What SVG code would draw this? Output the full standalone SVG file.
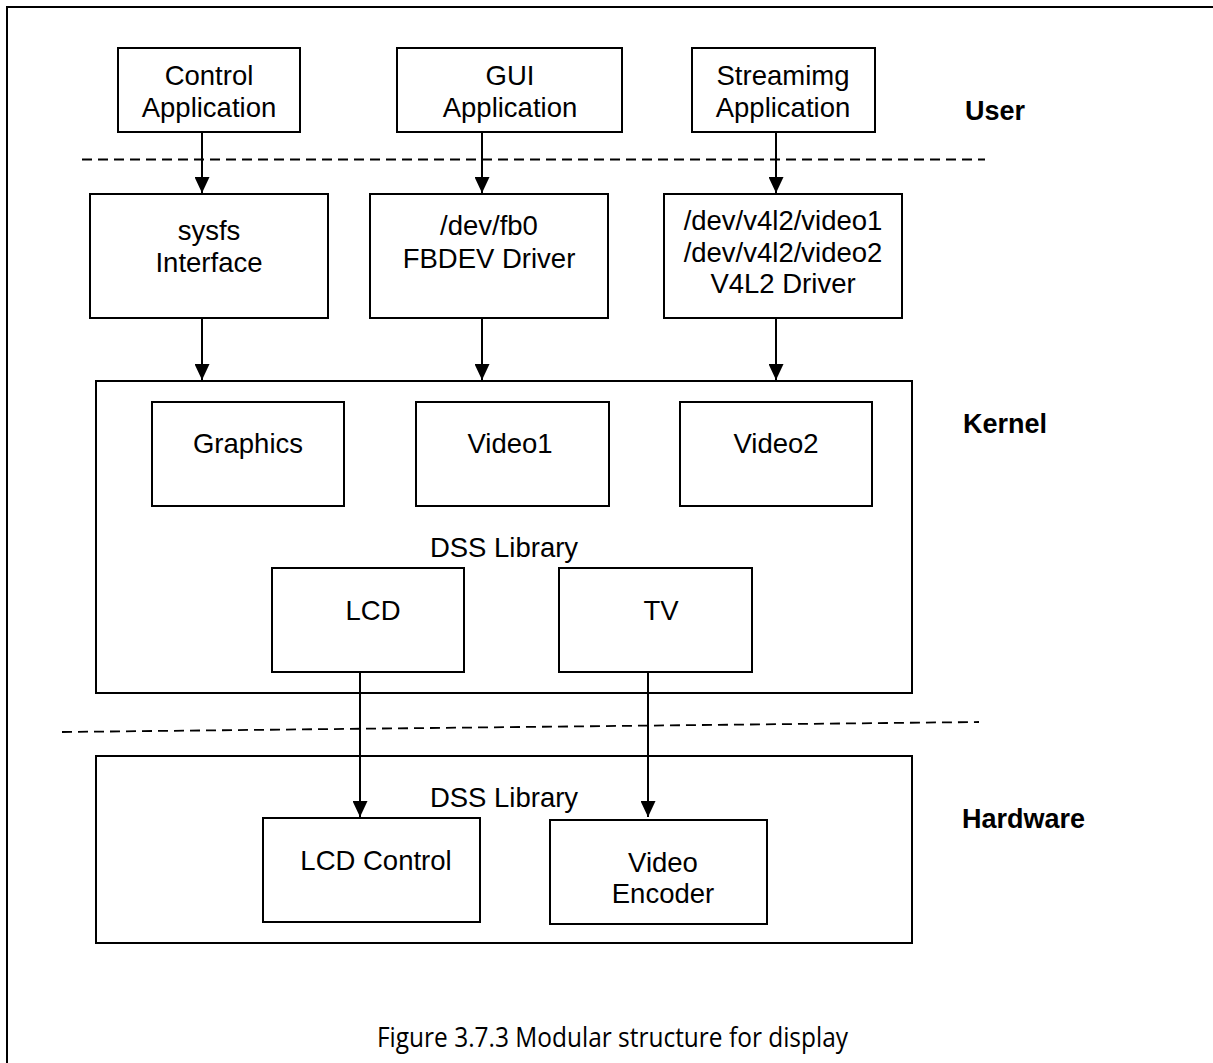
<svg xmlns="http://www.w3.org/2000/svg" width="1213" height="1063" viewBox="0 0 1213 1063">
  <defs>
    <marker id="arrow" viewBox="0 0 16 15" refX="16" refY="7.5" markerWidth="16" markerHeight="15" markerUnits="userSpaceOnUse" orient="auto">
      <path d="M0,0 L16,7.5 L0,15 Z" fill="#000"/>
    </marker>
  </defs>
  <style>
    .box { fill: #fff; stroke: #000; stroke-width: 2; }
    .lbl { font-family: "Liberation Sans", Arial, sans-serif; font-size: 27.5px; fill: #000; text-anchor: middle; }
    .layer { font-family: "Liberation Sans", Arial, sans-serif; font-size: 27px; font-weight: bold; fill: #000; }
    .cap { font-family: "Open Sans", "Noto Sans", sans-serif; font-size: 27px; fill: #000; }
    .sep { stroke: #000; stroke-width: 1.8; stroke-dasharray: 10 6; fill: none; }
    .wire { stroke: #000; stroke-width: 2; fill: none; }
  </style>

  <rect width="1213" height="1063" fill="#fff"/>
  <!-- page border -->
  <path d="M7,1063 V7 H1213" fill="none" stroke="#000" stroke-width="2"/>

  <!-- layer separators -->
  <line class="sep" x1="82" y1="159.5" x2="985" y2="159.5"/>
  <line class="sep" x1="62" y1="732" x2="979" y2="722"/>

  <!-- layer labels -->
  <text class="layer" x="965" y="120">User</text>
  <text class="layer" x="963" y="433">Kernel</text>
  <text class="layer" x="962" y="828">Hardware</text>

  <!-- user space -->
  <g id="control-app">
    <rect class="box" x="118" y="48" width="182" height="84"/>
    <text class="lbl" x="209" y="85">Control</text>
    <text class="lbl" x="209" y="117">Application</text>
  </g>
  <g id="gui-app">
    <rect class="box" x="397" y="48" width="225" height="84"/>
    <text class="lbl" x="510" y="85">GUI</text>
    <text class="lbl" x="510" y="117">Application</text>
  </g>
  <g id="streaming-app">
    <rect class="box" x="692" y="48" width="183" height="84"/>
    <text class="lbl" x="783" y="85">Streamimg</text>
    <text class="lbl" x="783" y="117">Application</text>
  </g>

  <!-- driver interfaces -->
  <g id="sysfs">
    <rect class="box" x="90" y="194" width="238" height="124"/>
    <text class="lbl" x="209" y="240">sysfs</text>
    <text class="lbl" x="209" y="272">Interface</text>
  </g>
  <g id="fbdev">
    <rect class="box" x="370" y="194" width="238" height="124"/>
    <text class="lbl" x="489" y="235">/dev/fb0</text>
    <text class="lbl" x="489" y="268">FBDEV Driver</text>
  </g>
  <g id="v4l2">
    <rect class="box" x="664" y="194" width="238" height="124"/>
    <text class="lbl" x="783" y="230">/dev/v4l2/video1</text>
    <text class="lbl" x="783" y="262">/dev/v4l2/video2</text>
    <text class="lbl" x="783" y="293">V4L2 Driver</text>
  </g>

  <!-- kernel DSS library -->
  <g id="kernel-dss">
    <rect class="box" x="96" y="381" width="816" height="312"/>
    <text class="lbl" x="504" y="557">DSS Library</text>
  </g>
  <g id="graphics">
    <rect class="box" x="152" y="402" width="192" height="104"/>
    <text class="lbl" x="248" y="453">Graphics</text>
  </g>
  <g id="video1">
    <rect class="box" x="416" y="402" width="193" height="104"/>
    <text class="lbl" x="510" y="453">Video1</text>
  </g>
  <g id="video2">
    <rect class="box" x="680" y="402" width="192" height="104"/>
    <text class="lbl" x="776" y="453">Video2</text>
  </g>
  <g id="lcd">
    <rect class="box" x="272" y="568" width="192" height="104"/>
    <text class="lbl" x="373" y="620">LCD</text>
  </g>
  <g id="tv">
    <rect class="box" x="559" y="568" width="193" height="104"/>
    <text class="lbl" x="661" y="620">TV</text>
  </g>

  <!-- hardware DSS -->
  <g id="hw-dss">
    <rect class="box" x="96" y="756" width="816" height="187"/>
    <text class="lbl" x="504" y="807">DSS Library</text>
  </g>
  <g id="lcd-control">
    <rect class="box" x="263" y="818" width="217" height="104"/>
    <text class="lbl" x="376" y="870">LCD Control</text>
  </g>
  <g id="video-encoder">
    <rect class="box" x="550" y="820" width="217" height="104"/>
    <text class="lbl" x="663" y="872">Video</text>
    <text class="lbl" x="663" y="903">Encoder</text>
  </g>

  <!-- connectors -->
  <g id="connectors">
    <line class="wire" x1="202" y1="132" x2="202" y2="193" marker-end="url(#arrow)"/>
    <line class="wire" x1="482" y1="132" x2="482" y2="193" marker-end="url(#arrow)"/>
    <line class="wire" x1="776" y1="132" x2="776" y2="193" marker-end="url(#arrow)"/>
    <line class="wire" x1="202" y1="318" x2="202" y2="380" marker-end="url(#arrow)"/>
    <line class="wire" x1="482" y1="318" x2="482" y2="380" marker-end="url(#arrow)"/>
    <line class="wire" x1="776" y1="318" x2="776" y2="380" marker-end="url(#arrow)"/>
    <line class="wire" x1="360" y1="672" x2="360" y2="817" marker-end="url(#arrow)"/>
    <line class="wire" x1="648" y1="672" x2="648" y2="817" marker-end="url(#arrow)"/>
  </g>

  <!-- caption -->
  <text class="cap" x="377" y="1047" textLength="471" lengthAdjust="spacingAndGlyphs">Figure 3.7.3 Modular structure for display</text>
</svg>
